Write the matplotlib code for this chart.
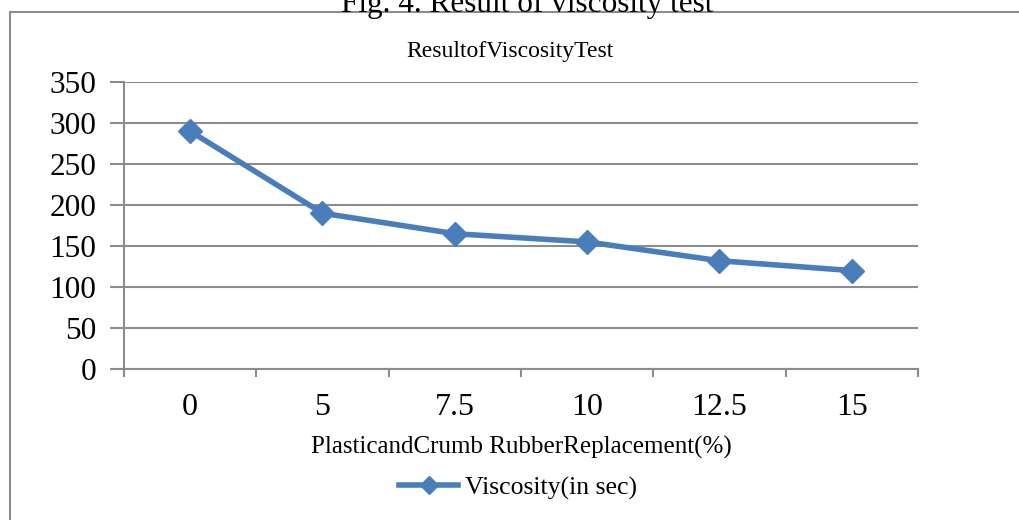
import matplotlib.pyplot as plt
from matplotlib.patches import Rectangle

# data
categories = ['0', '5', '7.5', '10', '12.5', '15']
viscosity = [290, 190, 165, 155, 132, 120]
yticks = [0, 50, 100, 150, 200, 250, 300, 350]

plt.rcParams['font.family'] = ['Liberation Serif', 'DejaVu Serif']

fig = plt.figure(figsize=(10.2, 5.2), dpi=100)
W, H = 1020, 520

# outer chart frame
fig.patches.append(Rectangle((10 / W, -0.01), 1.2, (520 - 12) / H + 0.01,
                             transform=fig.transFigure, fill=False,
                             edgecolor='#8c8c8c', linewidth=1.5))

ax = fig.add_axes([124 / W, 1 - 369 / H, (918 - 124) / W, (369 - 82) / H])
x = list(range(len(categories)))
line, = ax.plot(x, viscosity, color='#4a7ebb', linewidth=4, marker='D',
                markersize=12, label='Viscosity(in sec)')

ax.set_xlim(-0.5, len(categories) - 0.5)
ax.set_ylim(0, 350)
ax.set_yticks(yticks)
ax.set_yticklabels([str(v) for v in yticks], fontsize=22.5)
ax.set_xticks(x)
ax.set_xticklabels(categories, fontsize=23)
ax.tick_params(axis='x', length=0, pad=17)
ax.tick_params(axis='y', length=10, color='#8c8c8c', width=1.5, pad=10)

# category boundary ticks below the x axis
for b in [i - 0.5 for i in range(len(categories) + 1)]:
    ax.plot([b, b], [0, -9], color='#8c8c8c', linewidth=1.5, clip_on=False)

ax.grid(axis='y', color='#8c8c8c', linewidth=1.5)
ax.set_axisbelow(True)
for s in ['top', 'right']:
    ax.spines[s].set_visible(False)
for s in ['left', 'bottom']:
    ax.spines[s].set_color('#8c8c8c')
    ax.spines[s].set_linewidth(1.5)

ax.set_xlabel('PlasticandCrumb RubberReplacement(%)', fontsize=18, labelpad=10)
fig.text(0.5, 1 - 51 / H, 'ResultofViscosityTest', ha='center', va='center', fontsize=17)
fig.text(527 / W, 1 - 4 / H, 'Fig. 4. Result of viscosity test', ha='center', va='center', fontsize=22.5)

fig.legend(handles=[line], loc='center', bbox_to_anchor=(518 / W, 1 - 488 / H),
           frameon=False, fontsize=18.5, handlelength=2.3, handletextpad=0.25,
           markerscale=0.75)

fig.savefig('out.png', dpi=100)
